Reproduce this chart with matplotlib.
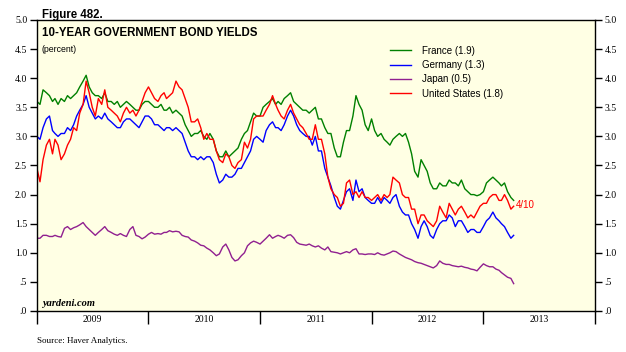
import datetime as dt
import matplotlib
matplotlib.use("Agg")
import matplotlib.pyplot as plt

# dates: 1st, 11th, 21st of each month, Jan 2009 - Mar 2013, then Apr 1 and Apr 10 2013
dates = [dt.date(y, m, d) for y in range(2009, 2014) for m in range(1, 13) for d in (1, 11, 21)
         if dt.date(y, m, d) < dt.date(2013, 4, 1)]
dates += [dt.date(2013, 4, 1), dt.date(2013, 4, 10)]

france = [
    3.60, 3.55, 3.80, 3.75, 3.70, 3.60, 3.65, 3.55, 3.65, 3.60, 3.70, 3.65,
    3.70, 3.75, 3.85, 3.95, 4.05, 3.85, 3.75, 3.70, 3.70, 3.65, 3.75, 3.60,
    3.60, 3.55, 3.60, 3.50, 3.55, 3.60, 3.55, 3.50, 3.45, 3.45, 3.55, 3.60,
    # 2010
    3.60, 3.55, 3.50, 3.50, 3.55, 3.45, 3.45, 3.50, 3.40, 3.45, 3.40, 3.35,
    3.20, 3.10, 3.00, 3.05, 3.05, 3.10, 3.00, 2.95, 3.05, 2.95, 2.75, 2.65,
    2.65, 2.75, 2.65, 2.70, 2.75, 2.80, 2.95, 3.05, 3.10, 3.25, 3.40, 3.35,
    # 2011
    3.35, 3.50, 3.55, 3.60, 3.65, 3.55, 3.60, 3.55, 3.65, 3.70, 3.75, 3.60,
    3.55, 3.50, 3.45, 3.45, 3.40, 3.45, 3.50, 3.30, 3.30, 3.15, 3.05, 3.05,
    2.80, 2.65, 2.65, 2.90, 3.10, 3.10, 3.35, 3.70, 3.55, 3.45, 3.20, 3.10,
    # 2012
    3.30, 3.10, 3.00, 3.05, 2.95, 2.90, 2.85, 2.95, 3.00, 3.05, 3.00, 3.05,
    2.90, 2.70, 2.40, 2.30, 2.60, 2.50, 2.40, 2.20, 2.10, 2.10, 2.20, 2.15,
    2.15, 2.25, 2.20, 2.20, 2.15, 2.25, 2.10, 2.05, 2.00, 2.00, 1.98, 2.00,
    # 2013
    2.05, 2.20, 2.25, 2.30, 2.25, 2.20, 2.15, 2.20, 2.05, 1.95, 1.90,
]

germany = [
    3.00, 2.95, 3.15, 3.30, 3.35, 3.10, 3.05, 3.00, 3.05, 3.05, 3.15, 3.10,
    3.20, 3.35, 3.45, 3.55, 3.70, 3.50, 3.40, 3.30, 3.35, 3.30, 3.40, 3.30,
    3.25, 3.20, 3.15, 3.15, 3.25, 3.30, 3.30, 3.25, 3.20, 3.15, 3.25, 3.35,
    # 2010
    3.35, 3.30, 3.20, 3.20, 3.15, 3.10, 3.15, 3.15, 3.10, 3.15, 3.10, 3.05,
    2.90, 2.75, 2.65, 2.65, 2.60, 2.65, 2.60, 2.65, 2.65, 2.55, 2.35, 2.20,
    2.25, 2.35, 2.30, 2.30, 2.35, 2.45, 2.45, 2.55, 2.65, 2.75, 2.95, 3.00,
    # 2011
    2.95, 2.90, 3.10, 3.20, 3.25, 3.15, 3.15, 3.10, 3.20, 3.35, 3.45, 3.35,
    3.20, 3.10, 3.05, 3.00, 3.00, 2.85, 3.00, 2.75, 2.75, 2.45, 2.30, 2.15,
    1.95, 1.80, 1.75, 1.90, 2.05, 2.10, 1.90, 2.25, 2.05, 2.10, 1.95, 1.90,
    # 2012
    1.85, 1.85, 1.95, 1.85, 1.95, 1.90, 1.85, 1.95, 2.00, 1.80, 1.70, 1.65,
    1.65, 1.50, 1.40, 1.25, 1.45, 1.55, 1.45, 1.30, 1.25, 1.40, 1.50, 1.55,
    1.55, 1.65, 1.60, 1.45, 1.55, 1.55, 1.45, 1.35, 1.40, 1.40, 1.35, 1.35,
    # 2013
    1.45, 1.55, 1.60, 1.70, 1.60, 1.55, 1.50, 1.45, 1.35, 1.25, 1.30,
]

japan = [
    1.25, 1.25, 1.30, 1.30, 1.28, 1.28, 1.30, 1.28, 1.27, 1.42, 1.45, 1.40,
    1.43, 1.45, 1.48, 1.52, 1.45, 1.40, 1.35, 1.30, 1.35, 1.40, 1.45, 1.38,
    1.35, 1.32, 1.30, 1.33, 1.30, 1.28, 1.40, 1.45, 1.30, 1.28, 1.24, 1.27,
    # 2010
    1.32, 1.35, 1.32, 1.33, 1.32, 1.35, 1.35, 1.38, 1.36, 1.37, 1.36, 1.30,
    1.28, 1.27, 1.22, 1.20, 1.17, 1.13, 1.12, 1.08, 1.05, 1.00, 0.95, 0.98,
    1.10, 1.15, 1.05, 0.92, 0.86, 0.88, 0.95, 1.00, 1.12, 1.17, 1.20, 1.18,
    # 2011
    1.15, 1.20, 1.25, 1.31, 1.25, 1.28, 1.30, 1.28, 1.25, 1.30, 1.31, 1.26,
    1.18, 1.15, 1.14, 1.13, 1.15, 1.12, 1.10, 1.12, 1.08, 1.05, 1.10, 1.02,
    1.01, 1.00, 0.98, 1.00, 1.02, 1.00, 1.05, 1.07, 0.98, 0.98, 0.97, 0.98,
    # 2012
    0.98, 0.97, 1.00, 0.97, 0.96, 0.98, 1.00, 1.03, 1.02, 0.98, 0.95, 0.92,
    0.90, 0.88, 0.85, 0.83, 0.82, 0.80, 0.78, 0.76, 0.74, 0.78, 0.86, 0.82,
    0.80, 0.80, 0.78, 0.77, 0.76, 0.77, 0.75, 0.74, 0.72, 0.71, 0.69, 0.75,
    # 2013
    0.81, 0.78, 0.76, 0.76, 0.72, 0.70, 0.66, 0.62, 0.58, 0.56, 0.47,
]

us = [
    2.45, 2.22, 2.60, 2.85, 2.95, 2.70, 2.95, 2.85, 2.60, 2.70, 2.85, 2.95,
    3.15, 3.10, 3.40, 3.55, 3.95, 3.75, 3.50, 3.35, 3.65, 3.55, 3.80, 3.50,
    3.45, 3.40, 3.35, 3.25, 3.40, 3.50, 3.40, 3.45, 3.35, 3.45, 3.60, 3.75,
    # 2010
    3.85, 3.75, 3.65, 3.60, 3.70, 3.75, 3.65, 3.70, 3.75, 3.95, 3.85, 3.80,
    3.65, 3.50, 3.25, 3.25, 3.30, 3.15, 2.95, 3.05, 2.95, 2.95, 2.75, 2.60,
    2.55, 2.70, 2.65, 2.50, 2.45, 2.55, 2.60, 2.90, 2.80, 2.95, 3.30, 3.35,
    # 2011
    3.35, 3.35, 3.45, 3.55, 3.70, 3.55, 3.45, 3.35, 3.30, 3.45, 3.55, 3.40,
    3.30, 3.20, 3.15, 3.05, 2.95, 2.95, 3.20, 2.95, 2.95, 2.70, 2.30, 2.10,
    2.00, 1.95, 1.80, 1.85, 2.20, 2.25, 2.00, 2.05, 1.95, 2.05, 1.95, 1.95,
    # 2012
    1.90, 1.95, 2.00, 1.90, 2.00, 1.95, 2.00, 2.30, 2.25, 2.20, 2.00, 1.95,
    1.95, 1.75, 1.75, 1.50, 1.65, 1.65, 1.55, 1.50, 1.45, 1.55, 1.80, 1.70,
    1.60, 1.85, 1.75, 1.65, 1.75, 1.80, 1.70, 1.60, 1.65, 1.60, 1.70, 1.80,
    # 2013
    1.85, 1.85, 1.95, 2.00, 2.00, 1.90, 1.90, 2.00, 1.90, 1.75, 1.80,
]

series = [("France (1.9)", france, "#008000"),
          ("Germany (1.3)", germany, "#0000ff"),
          ("Japan (0.5)", japan, "#902090"),
          ("United States (1.8)", us, "#ff0000")]

yticks = [0, 0.5, 1.0, 1.5, 2.0, 2.5, 3.0, 3.5, 4.0, 4.5, 5.0]
ylabels = [".0", ".5", "1.0", "1.5", "2.0", "2.5", "3.0", "3.5", "4.0", "4.5", "5.0"]
years = [2009, 2010, 2011, 2012, 2013]

fig = plt.figure(figsize=(6.26, 3.52), dpi=100)
ax = fig.add_axes([0.059, 0.1165, 0.8914, 0.8267])
ax.set_facecolor("#ffffe4")

for name, vals, col in series:
    ax.plot(dates, vals, color=col, lw=1.0, label=name)

ax.set_xlim(dt.date(2009, 1, 1), dt.date(2014, 1, 1))
ax.set_ylim(0, 5.0)

# year boundaries as long ticks, labels at mid-year
ax.set_xticks([dt.date(y, 1, 1) for y in years + [2014]])
ax.set_xticklabels([])
ax.set_xticks([dt.date(y, 7, 2) for y in years], minor=True)
ax.set_xticklabels([str(y) for y in years], minor=True, fontfamily="Liberation Serif", fontsize=7)
ax.tick_params(axis="x", which="major", length=9, width=1, direction="out")
ax.tick_params(axis="x", which="minor", length=0, pad=3)

ax.set_yticks(yticks)
ax.set_yticklabels(ylabels, fontfamily="Liberation Serif", fontsize=7)
ax.tick_params(axis="y", which="both", length=5, width=1, direction="out",
               left=True, right=True, labelleft=True, labelright=True, pad=2)

for sp in ax.spines.values():
    sp.set_linewidth(1.0)
    sp.set_color("black")

leg = ax.legend(loc="upper left", bbox_to_anchor=(0.625, 0.925), frameon=False,
                prop={"family": "Liberation Sans", "size": 7}, handlelength=2.2,
                handletextpad=1.1, labelspacing=0.45, borderaxespad=0)

ax.text(0.009, 0.975, "10-YEAR GOVERNMENT BOND YIELDS", transform=ax.transAxes,
        fontfamily="Liberation Sans", fontweight="bold", fontsize=8.3, va="top")
ax.text(0.009, 0.915, "(percent)", transform=ax.transAxes,
        fontfamily="Liberation Sans", fontsize=6.3, va="top")
ax.text(0.009, 0.012, "yardeni.com", transform=ax.transAxes,
        fontfamily="Liberation Serif", fontstyle="italic", fontweight="bold",
        fontsize=7.5, va="bottom")
ax.text(dt.date(2013, 4, 18), 1.82, "4/10", color="#ff0000",
        fontfamily="Liberation Sans", fontsize=7, va="center")

fig.text(0.067, 0.975, "Figure 482.", fontfamily="Liberation Sans", fontweight="bold",
         fontsize=8.3, va="top")
fig.text(0.059, 0.02, "Source: Haver Analytics.", fontfamily="Liberation Serif",
         fontsize=6.5, va="bottom")

fig.savefig("out.png", dpi=100)
